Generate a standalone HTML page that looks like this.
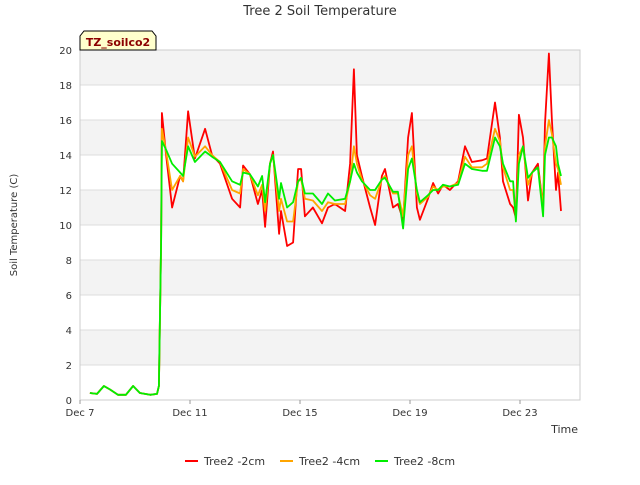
<!DOCTYPE html>
<html><head><meta charset="utf-8"><style>
body{margin:0;background:#fff;font-family:"Liberation Sans","DejaVu Sans",sans-serif;}
svg text{font-family:"DejaVu Sans","Liberation Sans",sans-serif;}
</style></head><body>
<svg id="chart" width="640" height="480" xmlns="http://www.w3.org/2000/svg">
<rect width="640" height="480" fill="#fff"/>
<g id="plot"></g>
<text x="320" y="15" text-anchor="middle" font-size="13" fill="#333">Tree 2 Soil Temperature</text>
<text x="17" y="225" text-anchor="middle" font-size="10" fill="#333" transform="rotate(-90 17 225)">Soil Temperature (C)</text>
<text x="578" y="433" text-anchor="end" font-size="11" fill="#333">Time</text>
<g>
<path d="M80,50 L80,36 L84,31 L152,31 L156,36 L156,50 Z" fill="#ffffcc" stroke="#000" stroke-width="1"/>
<text x="118" y="46" text-anchor="middle" font-size="11" font-weight="bold" fill="#8b0000">TZ_soilco2</text>
</g>
<g id="legend"></g>
</svg>
<script>
const days=[0.36,0.62,0.87,1.09,1.38,1.67,1.93,2.18,2.55,2.8,2.87,2.95,2.98,3.13,3.35,3.64,3.75,3.93,4.18,4.55,4.8,5.09,5.53,5.82,5.93,6.18,6.47,6.62,6.73,6.91,7.02,7.24,7.31,7.53,7.75,7.93,8.04,8.18,8.47,8.8,9.02,9.27,9.64,9.82,9.96,10.07,10.25,10.55,10.73,10.98,11.09,11.38,11.56,11.75,11.93,12.07,12.25,12.36,12.65,12.84,13.02,13.2,13.45,13.75,14.0,14.25,14.62,14.8,15.09,15.27,15.38,15.64,15.75,15.85,15.96,16.11,16.29,16.44,16.65,16.84,16.91,17.05,17.16,17.31,17.38,17.49];
const red=[.4,.35,.8,.6,.3,.3,.8,.4,.3,.35,.8,9,16.4,14,11,12.8,12.5,16.5,13.8,15.5,14,13.5,11.5,11,13.4,12.9,11.2,12,9.9,13.5,14.2,9.5,10.8,8.8,9,13.2,13.2,10.5,11,10.1,11,11.2,10.8,13.5,18.9,14,12.8,11,10,12.8,13.2,11,11.2,10.3,15,16.4,11,10.3,11.5,12.4,11.8,12.3,12,12.5,14.5,13.6,13.7,13.8,17,15,12.5,11.2,11,10.4,16.3,15,11.4,13,13.5,11,15.8,19.8,16,12,13,10.8];
const orange=[.4,.35,.8,.6,.3,.3,.8,.4,.3,.35,.8,9,15.5,14.2,12,12.8,12.5,15,13.9,14.5,14,13.6,12,11.8,13.2,12.9,11.7,12.3,10.8,13.5,14,10.8,11.5,10.2,10.2,12.5,12.6,11.5,11.4,10.8,11.3,11.2,11.2,12.5,14.5,13.5,12.6,11.7,11.5,12.6,12.8,11.8,11.8,10.5,14,14.5,11.8,11.2,11.6,12.2,12,12.2,12.2,12.4,13.9,13.3,13.3,13.5,15.5,14.8,13.3,12,12,10.5,14,14.5,12.3,13,13.3,11,14.5,16,15.2,13.5,13.2,12.3];
const green=[.4,.35,.8,.6,.3,.3,.8,.4,.3,.35,.8,9,14.8,14.3,13.5,13,12.8,14.5,13.6,14.2,13.9,13.6,12.5,12.3,13,12.9,12.2,12.8,11.3,13.5,14,11.5,12.4,11,11.3,12.5,12.7,11.8,11.8,11.2,11.8,11.4,11.5,12.5,13.5,13,12.5,12,12,12.6,12.7,11.9,11.9,9.8,13.2,13.8,12,11.3,11.7,12,12,12.3,12.2,12.3,13.5,13.2,13.1,13.1,15,14.5,13.5,12.5,12.5,10.2,13.5,14.5,12.7,13,13.3,10.5,14,15,15,14.5,13.5,12.8];
const yTicks=[0,2,4,6,8,10,12,14,16,18,20];
const xTickDays=[0,4,8,12,16];
const xTickLabels=["Dec 7","Dec 11","Dec 15","Dec 19","Dec 23"];
const seriesNames=["Tree2 -2cm","Tree2 -4cm","Tree2 -8cm"];
const seriesColors=["#ff0000","#ffa500","#00ee00"];

const X0=80,X1=580,Y0=400,Y1=50;
const xs=d=>X0+d*27.5;
const ys=v=>Y0-(v/20)*(Y0-Y1);
const NS="http://www.w3.org/2000/svg";
const plot=document.getElementById('plot');
function mk(t,a,p){const e=document.createElementNS(NS,t);for(const k in a)e.setAttribute(k,a[k]);(p||plot).appendChild(e);return e;}
for(let i=0;i<yTicks.length-1;i++){
  if(i%2===1){const b=mk('rect',{x:X0,y:ys(yTicks[i+1]),width:X1-X0,height:ys(yTicks[i])-ys(yTicks[i+1]),fill:'#f3f3f3'});
  
  }
}
yTicks.forEach(v=>{
  const l=mk('line',{x1:X0,x2:X1,y1:ys(v),y2:ys(v),stroke:'#dddddd','stroke-width':1});
  
  
  const t=mk('text',{x:X0-8,y:ys(v)+4,'text-anchor':'end','font-size':10,fill:'#333'});
  t.textContent=v;
  
  
});
const frame=mk('rect',{x:X0,y:Y1,width:X1-X0,height:Y0-Y1,fill:'none',stroke:'#cccccc'});


xTickDays.forEach((d,i)=>{
  const tk=mk('line',{x1:xs(d),x2:xs(d),y1:Y0,y2:Y0+4,stroke:'#999'});
  
  
  const t=mk('text',{x:xs(d),y:Y0+16,'text-anchor':'middle','font-size':10,fill:'#333'});
  t.textContent=xTickLabels[i];
  
  
});
[red,orange,green].forEach((s,k)=>{
  const pts=s.map((v,i)=>xs(days[i]).toFixed(1)+','+ys(v).toFixed(1)).join(' ');
  const pl=mk('polyline',{points:pts,fill:'none',stroke:seriesColors[k],'stroke-width':1.8,'stroke-linejoin':'round'});
  
  
});
const lg=document.getElementById('legend');
const lx=[185,280,375];
seriesNames.forEach((n,k)=>{
  const l=mk('line',{x1:lx[k],x2:lx[k]+13,y1:461,y2:461,stroke:seriesColors[k],'stroke-width':2},lg);
  
  
  const t=mk('text',{x:lx[k]+19,y:465,'font-size':11,fill:'#333'},lg);
  t.textContent=n;
  
  
});
</script>
</body></html>
